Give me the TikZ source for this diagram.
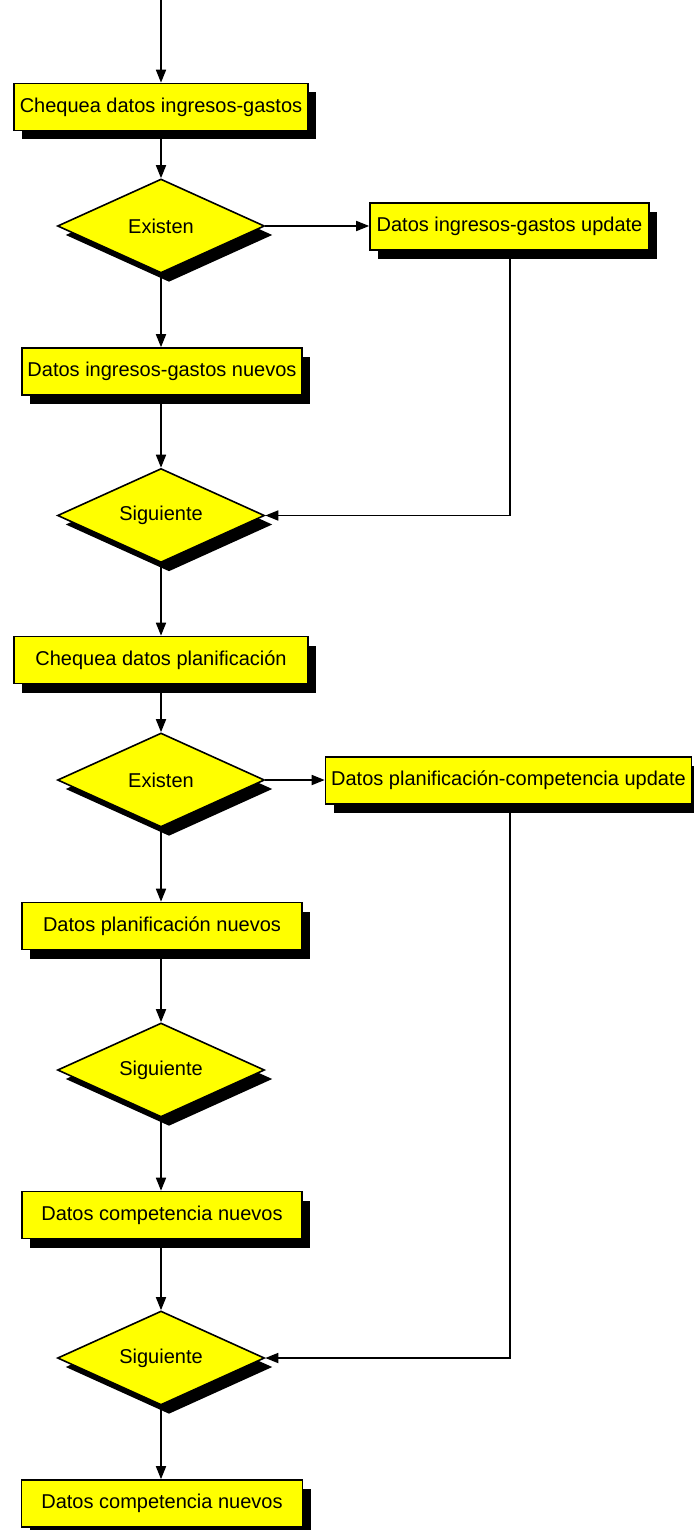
\documentclass[tikz,border=0pt]{standalone}
\usepackage{fontspec}
\setmainfont{Liberation Sans}
\usetikzlibrary{shapes.geometric,shadows,arrows.meta}
\definecolor{boxyellow}{RGB}{255,255,0}
\newcommand{\zw}[1]{\makebox[0pt]{#1}}
\tikzset{
  shade8/.style={drop shadow={shadow xshift=8pt,shadow yshift=-9pt,fill=black,opacity=1}},
  procbox/.style={rectangle,draw=black,line width=1.6pt,fill=boxyellow,shade8,
    minimum height=47pt,inner sep=2pt,font=\fontsize{20}{24}\selectfont},
  decision/.style={diamond,draw=black,line width=1.6pt,fill=boxyellow,shade8,
    minimum width=207pt,minimum height=94pt,inner sep=0pt,font=\fontsize{20}{24}\selectfont},
  flow/.style={line width=1.7pt,-{Triangle[length=13pt,width=10pt]}}
}
\begin{document}
\begin{tikzpicture}[x=1pt,y=-1pt]
\useasboundingbox (0,0) rectangle (693,1530);
\coordinate (top) at (161,0);
\node[procbox,minimum width=294pt] (b1) at (161,107) {Chequea datos ingresos-gastos};
\node[decision] (d1) at (161,226) {\zw{Existen}};
\node[procbox,minimum width=279pt] (u1) at (509.5,226.5) {Datos ingresos-gastos update};
\node[procbox,minimum width=280pt] (b2) at (162,371.5) {Datos ingresos-gastos nuevos};
\node[decision] (d2) at (161,515.5) {\zw{Siguiente}};
\node[procbox,minimum width=294pt] (b3) at (161,660) {Chequea datos planificaci\'on};
\node[decision] (d3) at (161,780) {\zw{Existen}};
\node[procbox,minimum width=366pt] (u2) at (508.5,780.5) {Datos planificaci\'on-competencia update};
\node[procbox,minimum width=280pt] (b4) at (162,926) {Datos planificaci\'on nuevos};
\node[decision] (d4) at (161,1070) {\zw{Siguiente}};
\node[procbox,minimum width=280pt] (b5) at (162,1215) {Datos competencia nuevos};
\node[decision] (d5) at (161,1358) {\zw{Siguiente}};
\node[procbox,minimum width=281pt] (b6) at (162,1503.5) {Datos competencia nuevos};
\coordinate (c1) at (510,515.5);
\coordinate (c2) at (510,1358);

\draw[flow] (top) -- (b1.north -| top);
\draw[flow] (b1.south -| d1.north) -- (d1.north);
\draw[flow] (d1.east) -- (d1.east -| u1.west);
\draw[flow] (d1.south) -- (b2.north -| d1.south);
\draw[flow] (b2.south -| d2.north) -- (d2.north);
\draw[flow] (u1.south -| c1) -- (c1) -- (d2.east);
\draw[flow] (d2.south) -- (b3.north -| d2.south);
\draw[flow] (b3.south -| d3.north) -- (d3.north);
\draw[flow] (d3.east) -- (d3.east -| u2.west);
\draw[flow] (d3.south) -- (b4.north -| d3.south);
\draw[flow] (b4.south -| d4.north) -- (d4.north);
\draw[flow] (d4.south) -- (b5.north -| d4.south);
\draw[flow] (b5.south -| d5.north) -- (d5.north);
\draw[flow] (u2.south -| c2) -- (c2) -- (d5.east);
\draw[flow] (d5.south) -- (b6.north -| d5.south);
\end{tikzpicture}
\end{document}
